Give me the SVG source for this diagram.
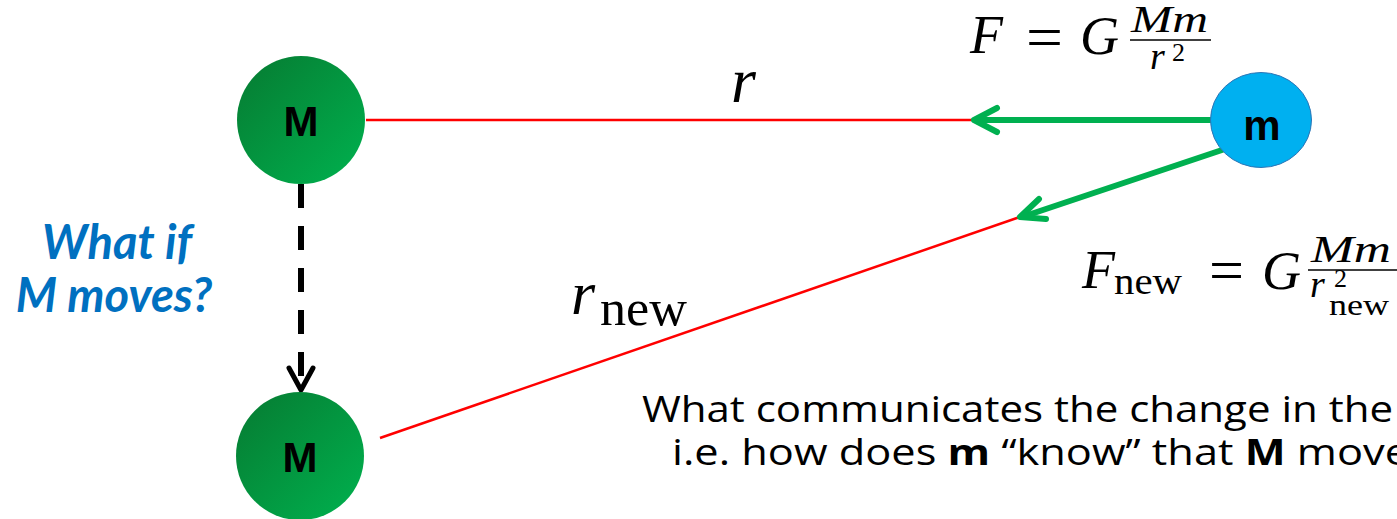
<svg xmlns="http://www.w3.org/2000/svg" width="1397" height="519" viewBox="0 0 1397 519">
<defs>
<linearGradient id="gM" x1="0" y1="0" x2="1" y2="1">
<stop offset="0" stop-color="#067A31"/>
<stop offset="1" stop-color="#00B24F"/>
</linearGradient>
<style>
.red{stroke:#FF0000;stroke-width:2.5;fill:none}
.grn{stroke:#00B050;stroke-width:6;fill:none;stroke-linecap:round;stroke-linejoin:round}
.dash{stroke:#000;stroke-width:6;fill:none;stroke-dasharray:24 18}
.head{stroke:#000;stroke-width:5;fill:none;stroke-linecap:round;stroke-linejoin:round}
.lbl{font-family:"Liberation Sans",Arial,sans-serif;font-weight:bold;font-size:42px;text-anchor:middle;fill:#000}
.mi{font-family:"Liberation Serif","Times New Roman",serif;font-style:italic;fill:#000}
.mr{font-family:"Liberation Serif","Times New Roman",serif;fill:#000}
.q{font-family:Lato,"Liberation Sans",sans-serif;font-weight:bold;font-style:italic;font-size:47px;fill:#0070C0;text-anchor:middle}
.body{font-family:"Open Sans","Liberation Sans",sans-serif;font-size:36px;fill:#000}
</style>
</defs>
<g id="connectors">
<line class="red" x1="366" y1="120" x2="974" y2="120"/>
<line class="red" x1="380" y1="438" x2="1020" y2="217"/>
<line class="grn" x1="1212" y1="120" x2="975" y2="120"/>
<polyline class="grn" points="997,108 974,120 997,132"/>
<line class="grn" x1="1222" y1="150" x2="1022" y2="217"/>
<polyline class="grn" points="1039,199 1020,217 1046,219"/>
<line class="dash" x1="301" y1="184" x2="301" y2="386"/>
<polyline class="head" points="289,368 301,390 313,368"/>
</g>
<g id="node-M-top">
<circle cx="301" cy="120" r="64" fill="url(#gM)"/>
<text class="lbl" x="301" y="136">M</text>
</g>
<g id="node-M-bottom">
<circle cx="300" cy="456" r="64" fill="url(#gM)"/>
<text class="lbl" x="300" y="472">M</text>
</g>
<g id="node-m">
<ellipse cx="1261" cy="120" rx="50.5" ry="47.5" fill="#00B0F0" stroke="#2E75B6" stroke-width="1"/>
<text class="lbl" x="1262" y="140">m</text>
</g>
<g id="label-r">
<text class="mi" x="731" y="102" font-size="64">r</text>
</g>
<g id="label-rnew">
<text class="mi" x="571" y="314" font-size="62">r</text>
<text class="mr" x="600" y="325" font-size="50" textLength="87" lengthAdjust="spacingAndGlyphs">new</text>
</g>
<g id="formula-F">
<text class="mi" x="970" y="53" font-size="54">F</text>
<text class="mr" x="1026" y="57" font-size="60" textLength="37" lengthAdjust="spacingAndGlyphs">=</text>
<text class="mi" x="1080" y="54" font-size="54">G</text>
<line x1="1130" y1="40" x2="1211" y2="40" stroke="#000" stroke-width="1.7"/>
<text class="mi" x="1131" y="32" font-size="38" textLength="77" lengthAdjust="spacingAndGlyphs">Mm</text>
<text class="mi" x="1150" y="69" font-size="38">r</text>
<text class="mr" x="1172" y="61" font-size="26">2</text>
</g>
<g id="formula-Fnew">
<text class="mi" x="1082" y="288" font-size="54">F</text>
<text class="mr" x="1114" y="294" font-size="38" textLength="68" lengthAdjust="spacingAndGlyphs">new</text>
<text class="mr" x="1209" y="290" font-size="60" textLength="35" lengthAdjust="spacingAndGlyphs">=</text>
<text class="mi" x="1262" y="289" font-size="54">G</text>
<line x1="1308" y1="270" x2="1400" y2="270" stroke="#000" stroke-width="1.7"/>
<text class="mi" x="1311" y="262" font-size="38" textLength="80" lengthAdjust="spacingAndGlyphs">Mm</text>
<text class="mi" x="1310" y="297" font-size="38">r</text>
<text class="mr" x="1334" y="287" font-size="26">2</text>
<text class="mr" x="1329" y="315" font-size="30" textLength="60" lengthAdjust="spacingAndGlyphs">new</text>
</g>
<g id="question">
<text class="q" x="117" y="259">What if</text>
<text class="q" x="114" y="312">M moves?</text>
</g>
<g id="caption">
<text class="body" x="642" y="422" textLength="751" lengthAdjust="spacingAndGlyphs">What communicates the change in the</text>
<text class="body" x="672" y="465" textLength="737" lengthAdjust="spacingAndGlyphs">i.e. how does <tspan font-weight="bold">m</tspan> “know” that <tspan font-weight="bold">M</tspan> move</text>
</g>
</svg>
